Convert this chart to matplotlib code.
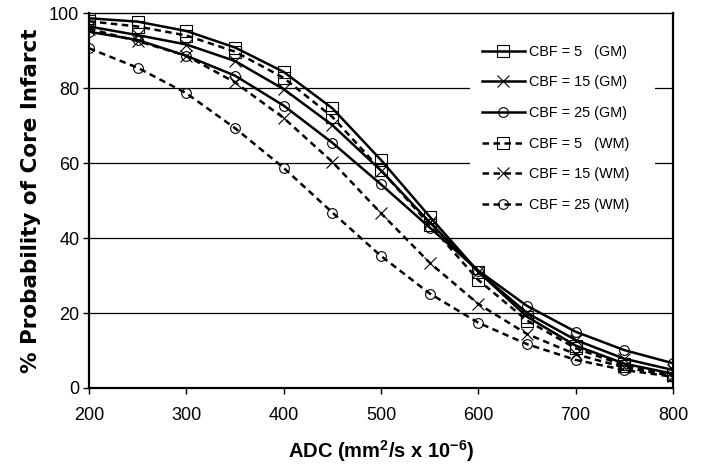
import matplotlib
matplotlib.use("Agg")
import matplotlib.pyplot as plt
from matplotlib.patches import Rectangle

# ADC values (mm^2/s x 10^-6)
adc = [200, 250, 300, 350, 400, 450, 500, 550, 600, 650, 700, 750, 800]

# % probability of core infarct
gm_cbf5 = [98.6, 97.7, 95.2, 90.8, 84.3, 74.6, 60.8, 45.7, 31.0, 19.0, 11.3, 6.5, 3.8]
gm_cbf15 = [96.4, 94.1, 91.6, 87.2, 79.7, 70.1, 58.0, 44.2, 31.0, 20.0, 12.8, 7.8, 4.8]
gm_cbf25 = [95.0, 92.8, 88.6, 83.3, 75.3, 65.4, 54.3, 42.8, 31.3, 21.9, 15.0, 10.1, 6.6]
wm_cbf5 = [97.8, 96.4, 94.0, 89.7, 82.7, 72.3, 58.1, 43.5, 28.8, 18.0, 10.6, 6.0, 3.5]
wm_cbf15 = [95.8, 92.5, 88.6, 81.5, 72.0, 60.3, 46.6, 33.4, 22.4, 14.4, 9.0, 5.5, 3.2]
wm_cbf25 = [90.6, 85.4, 78.6, 69.3, 58.7, 46.8, 35.2, 25.2, 17.4, 11.7, 7.5, 4.8, 3.0]

labels = [
    "CBF = 5   (GM)",
    "CBF = 15 (GM)",
    "CBF = 25 (GM)",
    "CBF = 5   (WM)",
    "CBF = 15 (WM)",
    "CBF = 25 (WM)",
]

plt.rcParams["font.family"] = ["Liberation Sans", "DejaVu Sans"]
plt.rcParams["mathtext.fontset"] = "custom"
plt.rcParams["mathtext.bf"] = "Liberation Sans:bold"
plt.rcParams["mathtext.rm"] = "Liberation Sans"

W, H = 703, 465
fig = plt.figure(figsize=(W / 100, H / 100), dpi=100)
x0, x1, y0, y1 = 89, 673, 13, 388
ax = fig.add_axes([x0 / W, 1 - y1 / H, (x1 - x0) / W, (y1 - y0) / H])

series = [gm_cbf5, gm_cbf15, gm_cbf25, wm_cbf5, wm_cbf15, wm_cbf25]
markers = ["s", "x", "o", "s", "x", "o"]
msizes = [8, 9, 7, 8, 9, 7]

for i, (vals, mk, ms, lab) in enumerate(zip(series, markers, msizes, labels)):
    solid = i < 3
    ax.plot(
        adc, vals,
        color="black",
        linewidth=1.8,
        linestyle="-" if solid else (0, (2.6, 1.8)),
        marker=mk,
        markersize=ms,
        markerfacecolor="none",
        markeredgecolor="black",
        markeredgewidth=0.8,
        label=lab,
        zorder=3,
    )

ax.set_xlim(200, 800)
ax.set_ylim(0, 100)
ax.set_xticks(range(200, 801, 100))
ax.set_yticks(range(0, 101, 20))
for yv in [20, 40, 60, 80]:
    ax.axhline(yv, color="black", linewidth=0.9, zorder=1)

ax.tick_params(axis="both", direction="out", length=4.5, width=1, labelsize=13, colors="black")
ax.tick_params(axis="x", pad=9)
ax.tick_params(axis="y", pad=2.5)
for side in ["left", "bottom", "right"]:
    ax.spines[side].set_linewidth(1.6)
ax.spines["top"].set_linewidth(1.0)

ax.set_xlabel(r"ADC (mm$^\mathbf{2}$/s x 10$^\mathbf{-6}$)", fontsize=14.5, fontweight="bold", labelpad=10)
ax.set_ylabel("% Probability of Core Infarct", fontsize=15.5, fontweight="bold",
              family=["DejaVu Sans"], labelpad=6)

# white area behind the legend (covers the gridlines, as in the original)
def px_to_ax(px, py):
    return (px - x0) / (x1 - x0), (y1 - py) / (y1 - y0)

bl = px_to_ax(470, 222)
tr = px_to_ax(655, 32)
ax.add_patch(Rectangle(bl, tr[0] - bl[0], tr[1] - bl[1], transform=ax.transAxes,
                       facecolor="white", edgecolor="none", zorder=2))

anchor = px_to_ax(476, 39)
leg = ax.legend(
    loc="upper left",
    bbox_to_anchor=anchor,
    fontsize=10.4,
    handlelength=3.0,
    labelspacing=1.15,
    handletextpad=0.3,
    frameon=False,
    borderpad=0.4,
    borderaxespad=0.0,
)
leg.set_zorder(5)

fig.savefig("out.png", dpi=100)
